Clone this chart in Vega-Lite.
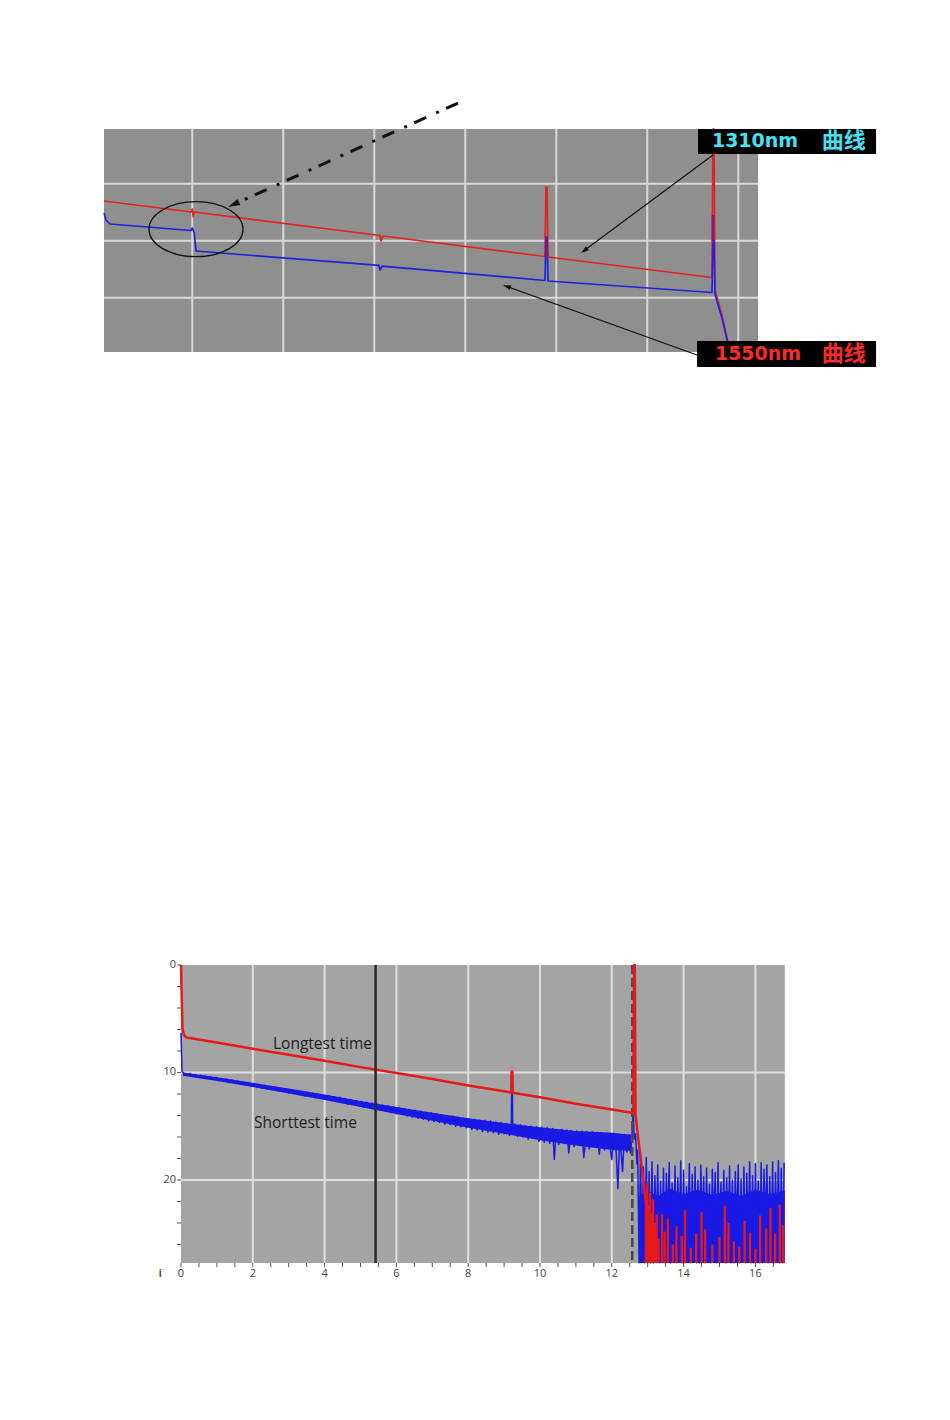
{
"$schema": "https://vega.github.io/schema/vega-lite/v6.json",
"width": 950, "height": 1420, "padding": 0,
"autosize": {"type": "fit", "contains": "padding"},
"background": "white",
"config": {"view": {"stroke": null}},
"datasets": {
"topRed": [{"tx":-0.97,"ty":1.303},{"tx":-0.014,"ty":1.496},{"tx":0.0,"ty":1.444},{"tx":0.011,"ty":1.584},{"tx":0.022,"ty":1.496},{"tx":2.063,"ty":1.908},{"tx":2.074,"ty":2.005},{"tx":2.096,"ty":1.917},{"tx":3.876,"ty":2.277},{"tx":3.887,"ty":1.058},{"tx":3.898,"ty":1.058},{"tx":3.909,"ty":2.286},{"tx":5.711,"ty":2.645},{"tx":5.722,"ty":0.04},{"tx":5.733,"ty":0.04},{"tx":5.744,"ty":2.865},{"tx":5.821,"ty":3.303},{"tx":5.909,"ty":3.952}],
"topBlue": [{"tx":-0.97,"ty":1.514},{"tx":-0.948,"ty":1.636},{"tx":-0.904,"ty":1.707},{"tx":-0.014,"ty":1.821},{"tx":0.0,"ty":1.777},{"tx":0.022,"ty":1.865},{"tx":0.041,"ty":2.18},{"tx":2.052,"ty":2.434},{"tx":2.063,"ty":2.514},{"tx":2.085,"ty":2.444},{"tx":3.876,"ty":2.698},{"tx":3.887,"ty":1.935},{"tx":3.898,"ty":1.935},{"tx":3.909,"ty":2.707},{"tx":5.711,"ty":2.908},{"tx":5.722,"ty":1.987},{"tx":5.733,"ty":1.987},{"tx":5.744,"ty":2.935},{"tx":5.821,"ty":3.356},{"tx":5.909,"ty":3.952}],
"botBand": [{"bx":0.05,"lo":10.0,"hi":10.3},{"bx":1,"lo":10.45,"hi":10.8},{"bx":2,"lo":10.95,"hi":11.35},{"bx":3,"lo":11.5,"hi":11.95},{"bx":4,"lo":12.05,"hi":12.55},{"bx":5,"lo":12.65,"hi":13.2},{"bx":6,"lo":13.2,"hi":13.85},{"bx":7,"lo":13.75,"hi":14.5},{"bx":8,"lo":14.25,"hi":15.15},{"bx":9,"lo":14.7,"hi":15.7},{"bx":10,"lo":15.1,"hi":16.3},{"bx":11,"lo":15.45,"hi":16.8},{"bx":12,"lo":15.6,"hi":17.2},{"bx":12.55,"lo":15.8,"hi":17.3}],
"botNoiseBand": [{"bx":12.76,"lo":21.5},{"bx":13.0,"lo":21.0},{"bx":13.3,"lo":21.5},{"bx":13.6,"lo":20.8},{"bx":14.0,"lo":21.3},{"bx":14.4,"lo":20.9},{"bx":14.8,"lo":21.4},{"bx":15.2,"lo":21.0},{"bx":15.6,"lo":21.5},{"bx":16.0,"lo":20.9},{"bx":16.4,"lo":21.3},{"bx":16.82,"lo":21.0}],
"botBlue": [{"bx":0,"by":6.3},{"bx":0.03,"by":9.9},{"bx":0.1,"by":10.15},{"bx":0.17,"by":10.3},{"bx":0.25,"by":10.1},{"bx":0.33,"by":10.35},{"bx":0.4,"by":10.2},{"bx":0.48,"by":10.45},{"bx":0.55,"by":10.25},{"bx":0.6,"by":10.5},{"bx":0.68,"by":10.3},{"bx":0.75,"by":10.55},{"bx":0.82,"by":10.4},{"bx":0.9,"by":10.65},{"bx":0.97,"by":10.45},{"bx":1.05,"by":10.75},{"bx":1.12,"by":10.55},{"bx":1.2,"by":10.7},{"bx":1.27,"by":10.6},{"bx":1.35,"by":10.95},{"bx":1.42,"by":10.7},{"bx":1.5,"by":10.95},{"bx":1.58,"by":10.8},{"bx":1.65,"by":11.1},{"bx":1.72,"by":10.9},{"bx":1.8,"by":11.15},{"bx":1.87,"by":10.95},{"bx":1.95,"by":11.25},{"bx":2.02,"by":11.05},{"bx":2.1,"by":11.35},{"bx":2.17,"by":11.15},{"bx":2.25,"by":11.45},{"bx":2.32,"by":11.2},{"bx":2.4,"by":11.5},{"bx":2.47,"by":11.3},{"bx":2.55,"by":11.6},{"bx":2.62,"by":11.35},{"bx":2.7,"by":11.7},{"bx":2.77,"by":11.45},{"bx":2.85,"by":11.75},{"bx":2.92,"by":11.55},{"bx":3.0,"by":11.9},{"bx":3.07,"by":11.6},{"bx":3.15,"by":11.95},{"bx":3.22,"by":11.7},{"bx":3.3,"by":12.05},{"bx":3.37,"by":11.75},{"bx":3.45,"by":12.2},{"bx":3.52,"by":11.85},{"bx":3.6,"by":12.15},{"bx":3.67,"by":11.95},{"bx":3.75,"by":12.35},{"bx":3.82,"by":12.0},{"bx":3.9,"by":12.4},{"bx":3.97,"by":12.1},{"bx":4.05,"by":12.5},{"bx":4.12,"by":12.15},{"bx":4.2,"by":12.6},{"bx":4.27,"by":12.25},{"bx":4.35,"by":12.7},{"bx":4.42,"by":12.3},{"bx":4.5,"by":12.8},{"bx":4.57,"by":12.4},{"bx":4.65,"by":12.95},{"bx":4.72,"by":12.5},{"bx":4.8,"by":12.95},{"bx":4.87,"by":12.6},{"bx":4.95,"by":13.1},{"bx":5.02,"by":12.7},{"bx":5.1,"by":13.25},{"bx":5.17,"by":12.75},{"bx":5.25,"by":13.3},{"bx":5.32,"by":12.85},{"bx":5.4,"by":13.45},{"bx":5.47,"by":12.95},{"bx":5.55,"by":13.5},{"bx":5.62,"by":13.05},{"bx":5.7,"by":13.6},{"bx":5.77,"by":13.1},{"bx":5.85,"by":13.75},{"bx":5.92,"by":13.2},{"bx":6.0,"by":13.85},{"bx":6.07,"by":13.25},{"bx":6.15,"by":13.9},{"bx":6.22,"by":13.35},{"bx":6.3,"by":14.05},{"bx":6.37,"by":13.45},{"bx":6.45,"by":14.15},{"bx":6.52,"by":13.5},{"bx":6.6,"by":14.25},{"bx":6.67,"by":13.6},{"bx":6.75,"by":14.35},{"bx":6.82,"by":13.7},{"bx":6.9,"by":14.5},{"bx":6.97,"by":13.75},{"bx":7.05,"by":14.55},{"bx":7.12,"by":13.85},{"bx":7.2,"by":14.65},{"bx":7.27,"by":13.95},{"bx":7.35,"by":14.8},{"bx":7.42,"by":14.0},{"bx":7.5,"by":14.85},{"bx":7.57,"by":14.05},{"bx":7.65,"by":15.0},{"bx":7.72,"by":14.15},{"bx":7.8,"by":15.05},{"bx":7.87,"by":14.25},{"bx":7.95,"by":15.15},{"bx":8.02,"by":14.3},{"bx":8.1,"by":15.3},{"bx":8.17,"by":14.35},{"bx":8.25,"by":15.35},{"bx":8.32,"by":14.45},{"bx":8.4,"by":15.5},{"bx":8.47,"by":14.45},{"bx":8.55,"by":15.55},{"bx":8.62,"by":14.5},{"bx":8.7,"by":15.6},{"bx":8.77,"by":14.6},{"bx":8.85,"by":15.75},{"bx":8.92,"by":14.65},{"bx":9.0,"by":15.7},{"bx":9.07,"by":14.75},{"bx":9.15,"by":15.85},{"bx":9.2,"by":15.0},{"bx":9.21,"by":12.0},{"bx":9.23,"by":12.0},{"bx":9.24,"by":15.3},{"bx":9.3,"by":14.8},{"bx":9.37,"by":15.95},{"bx":9.45,"by":14.85},{"bx":9.52,"by":16.0},{"bx":9.6,"by":14.95},{"bx":9.67,"by":16.2},{"bx":9.75,"by":15.0},{"bx":9.82,"by":16.1},{"bx":9.9,"by":15.05},{"bx":9.97,"by":16.4},{"bx":10.05,"by":15.1},{"bx":10.12,"by":16.5},{"bx":10.2,"by":15.15},{"bx":10.27,"by":16.6},{"bx":10.35,"by":15.2},{"bx":10.4,"by":18.1},{"bx":10.45,"by":15.3},{"bx":10.52,"by":16.7},{"bx":10.6,"by":15.3},{"bx":10.67,"by":16.6},{"bx":10.75,"by":15.35},{"bx":10.8,"by":17.5},{"bx":10.87,"by":15.4},{"bx":10.95,"by":16.9},{"bx":11.02,"by":15.45},{"bx":11.1,"by":16.8},{"bx":11.17,"by":15.45},{"bx":11.22,"by":17.9},{"bx":11.3,"by":15.5},{"bx":11.37,"by":17.1},{"bx":11.45,"by":15.5},{"bx":11.52,"by":16.9},{"bx":11.6,"by":15.55},{"bx":11.65,"by":17.6},{"bx":11.72,"by":15.6},{"bx":11.8,"by":17.2},{"bx":11.87,"by":15.65},{"bx":11.95,"by":17.0},{"bx":12.0,"by":18.1},{"bx":12.05,"by":15.65},{"bx":12.12,"by":17.3},{"bx":12.17,"by":20.8},{"bx":12.22,"by":15.8},{"bx":12.3,"by":19.2},{"bx":12.35,"by":15.75},{"bx":12.42,"by":17.4},{"bx":12.47,"by":15.8},{"bx":12.52,"by":17.5},{"bx":12.56,"by":15.9},{"bx":12.6,"by":13.5},{"bx":12.62,"by":16.2},{"bx":12.66,"by":15.7},{"bx":12.7,"by":18.5},
{"bx":12.72,"by":17.2},{"bx":12.76,"by":27.7},{"bx":12.80,"by":17.6},{"bx":12.84,"by":26.5},{"bx":12.88,"by":18.8},{"bx":12.92,"by":27.7},{"bx":12.96,"by":17.9},{"bx":13.00,"by":25.8},{"bx":13.04,"by":19.2},{"bx":13.08,"by":27.7},{"bx":13.12,"by":18.3},{"bx":13.16,"by":27.7},{"bx":13.20,"by":19.6},{"bx":13.24,"by":24.9},{"bx":13.28,"by":18.6},{"bx":13.32,"by":27.7},{"bx":13.36,"by":20.1},{"bx":13.40,"by":26.8},{"bx":13.44,"by":18.9},{"bx":13.48,"by":27.7},{"bx":13.52,"by":19.4},{"bx":13.56,"by":23.9},{"bx":13.60,"by":18.4},{"bx":13.64,"by":27.7},{"bx":13.68,"by":20.3},{"bx":13.72,"by":27.2},{"bx":13.76,"by":18.7},{"bx":13.80,"by":27.7},{"bx":13.84,"by":19.8},{"bx":13.88,"by":25.4},{"bx":13.92,"by":18.2},{"bx":13.96,"by":27.7},{"bx":14.00,"by":19.1},{"bx":14.04,"by":27.7},{"bx":14.08,"by":20.6},{"bx":14.12,"by":24.6},{"bx":14.16,"by":18.5},{"bx":14.20,"by":27.7},{"bx":14.24,"by":19.5},{"bx":14.28,"by":26.2},{"bx":14.32,"by":18.8},{"bx":14.36,"by":27.7},{"bx":14.40,"by":20.0},{"bx":14.44,"by":27.7},{"bx":14.48,"by":18.6},{"bx":14.52,"by":25.1},{"bx":14.56,"by":19.7},{"bx":14.60,"by":27.7},{"bx":14.64,"by":18.9},{"bx":14.68,"by":27.0},{"bx":14.72,"by":20.4},{"bx":14.76,"by":27.7},{"bx":14.80,"by":19.0},{"bx":14.84,"by":24.4},{"bx":14.88,"by":19.3},{"bx":14.92,"by":27.7},{"bx":14.96,"by":18.4},{"bx":15.00,"by":27.7},{"bx":15.04,"by":20.2},{"bx":15.08,"by":25.9},{"bx":15.12,"by":19.1},{"bx":15.16,"by":27.7},{"bx":15.20,"by":19.8},{"bx":15.24,"by":26.7},{"bx":15.28,"by":18.7},{"bx":15.32,"by":27.7},{"bx":15.36,"by":20.0},{"bx":15.40,"by":27.7},{"bx":15.44,"by":19.2},{"bx":15.48,"by":24.8},{"bx":15.52,"by":18.6},{"bx":15.56,"by":27.7},{"bx":15.60,"by":19.9},{"bx":15.64,"by":27.3},{"bx":15.68,"by":18.8},{"bx":15.72,"by":27.7},{"bx":15.76,"by":19.4},{"bx":15.80,"by":25.6},{"bx":15.84,"by":18.3},{"bx":15.88,"by":27.7},{"bx":15.92,"by":19.6},{"bx":15.96,"by":27.7},{"bx":16.00,"by":18.5},{"bx":16.04,"by":26.1},{"bx":16.08,"by":20.1},{"bx":16.12,"by":27.7},{"bx":16.16,"by":18.4},{"bx":16.20,"by":27.7},{"bx":16.24,"by":19.0},{"bx":16.28,"by":24.7},{"bx":16.32,"by":18.6},{"bx":16.36,"by":27.7},{"bx":16.40,"by":19.7},{"bx":16.44,"by":27.1},{"bx":16.48,"by":18.3},{"bx":16.52,"by":27.7},{"bx":16.56,"by":19.3},{"bx":16.60,"by":25.5},{"bx":16.64,"by":18.2},{"bx":16.68,"by":27.7},{"bx":16.72,"by":18.9},{"bx":16.76,"by":27.7},{"bx":16.80,"by":18.4}],
"botRed": [{"bx":0,"by":0},{"bx":0.02,"by":3.0},{"bx":0.04,"by":5.9},{"bx":0.08,"by":6.5},{"bx":0.15,"by":6.75},{"bx":1,"by":7.2},{"bx":2,"by":7.8},{"bx":3,"by":8.35},{"bx":4,"by":8.9},{"bx":5,"by":9.5},{"bx":6,"by":10.05},{"bx":7,"by":10.6},{"bx":8,"by":11.2},{"bx":9,"by":11.75},{"bx":9.2,"by":11.86},{"bx":9.21,"by":9.9},{"bx":9.23,"by":9.9},{"bx":9.24,"by":11.88},{"bx":10,"by":12.3},{"bx":11,"by":12.9},{"bx":12,"by":13.45},{"bx":12.55,"by":13.75},{"bx":12.6,"by":13.8},{"bx":12.62,"by":0},{"bx":12.64,"by":0},{"bx":12.66,"by":13.9},{"bx":12.75,"by":16.5},{"bx":12.85,"by":19.2},{"bx":12.95,"by":22.0},{"bx":13.05,"by":24.8},{"bx":13.15,"by":27.7}],
"botRedSpikes": [{"bx":12.95,"by":21.5},{"bx":12.99,"by":20.3},{"bx":13.03,"by":22.4},{"bx":13.07,"by":21.2},{"bx":13.11,"by":23.1},{"bx":13.15,"by":21.8},{"bx":13.2,"by":24.0},{"bx":13.25,"by":23.2},{"bx":13.3,"by":25.5},{"bx":13.4,"by":23.2},{"bx":13.47,"by":24.8},{"bx":13.56,"by":23.6},{"bx":13.7,"by":26.0},{"bx":13.8,"by":24.3},{"bx":13.95,"by":25.2},{"bx":14.04,"by":22.8},{"bx":14.2,"by":26.3},{"bx":14.35,"by":25.0},{"bx":14.5,"by":23.0},{"bx":14.6,"by":24.6},{"bx":14.8,"by":26.0},{"bx":15.0,"by":25.3},{"bx":15.15,"by":22.4},{"bx":15.25,"by":24.0},{"bx":15.4,"by":25.7},{"bx":15.55,"by":26.2},{"bx":15.7,"by":23.8},{"bx":15.85,"by":24.9},{"bx":16.0,"by":26.4},{"bx":16.13,"by":23.3},{"bx":16.3,"by":24.5},{"bx":16.42,"by":22.6},{"bx":16.55,"by":25.0},{"bx":16.68,"by":22.3},{"bx":16.78,"by":24.2}],
"xTicks": [{"bx":0},{"bx":0.5},{"bx":1},{"bx":1.5},{"bx":2},{"bx":2.5},{"bx":3},{"bx":3.5},{"bx":4},{"bx":4.5},{"bx":5},{"bx":5.5},{"bx":6},{"bx":6.5},{"bx":7},{"bx":7.5},{"bx":8},{"bx":8.5},{"bx":9},{"bx":9.5},{"bx":10},{"bx":10.5},{"bx":11},{"bx":11.5},{"bx":12},{"bx":12.5},{"bx":13},{"bx":13.5},{"bx":14},{"bx":14.5},{"bx":15},{"bx":15.5},{"bx":16},{"bx":16.5}],
"xLabels": [{"bx":0,"label":"0"},{"bx":2,"label":"2"},{"bx":4,"label":"4"},{"bx":6,"label":"6"},{"bx":8,"label":"8"},{"bx":10,"label":"10"},{"bx":12,"label":"12"},{"bx":14,"label":"14"},{"bx":16,"label":"16"}],
"yTicks": [{"by":0},{"by":2},{"by":4},{"by":6},{"by":8},{"by":10},{"by":12},{"by":14},{"by":16},{"by":18},{"by":20},{"by":22},{"by":24},{"by":26}],
"yLabels": [{"by":0,"label":"0"},{"by":10,"label":"10"},{"by":20,"label":"20"}]
},
"layer": [
{"layer": [
 {"data": {"values": [{"tx":-0.97,"tx2":6.217,"ty":0.04,"ty2":3.952}]},
  "mark": {"type":"rect","fill":"#8f8f8f"},
  "encoding": {"x":{"field":"tx","type":"quantitative","scale":{"domain":[-2.1129,8.3267],"nice":false,"zero":false},"axis":null},"x2":{"field":"tx2"},
   "y":{"field":"ty","type":"quantitative","scale":{"domain":[-2.2232,22.6891],"reverse":true,"nice":false,"zero":false},"axis":null},"y2":{"field":"ty2"}}},
 {"data": {"values": [{"tx":0},{"tx":1},{"tx":2},{"tx":3},{"tx":4},{"tx":5},{"tx":6}]},
  "mark": {"type":"rule","color":"#d8d8d8","strokeWidth":2},
  "encoding": {"x":{"field":"tx","type":"quantitative","scale":{"domain":[-2.1129,8.3267],"nice":false,"zero":false},"axis":null},
   "y":{"datum":0.04,"type":"quantitative","scale":{"domain":[-2.2232,22.6891],"reverse":true,"nice":false,"zero":false},"axis":null},"y2":{"datum":3.952}}},
 {"data": {"values": [{"ty":1},{"ty":2},{"ty":3}]},
  "mark": {"type":"rule","color":"#d8d8d8","strokeWidth":2},
  "encoding": {"x":{"datum":-0.97,"type":"quantitative","scale":{"domain":[-2.1129,8.3267],"nice":false,"zero":false},"axis":null},"x2":{"datum":6.217},
   "y":{"field":"ty","type":"quantitative","scale":{"domain":[-2.2232,22.6891],"reverse":true,"nice":false,"zero":false},"axis":null}}},
 {"data": {"name":"topRed"},
  "mark": {"type":"line","color":"#e32222","strokeWidth":1.7,"strokeJoin":"round"},
  "encoding": {"x":{"field":"tx","type":"quantitative","scale":{"domain":[-2.1129,8.3267],"nice":false,"zero":false},"axis":null},
   "y":{"field":"ty","type":"quantitative","scale":{"domain":[-2.2232,22.6891],"reverse":true,"nice":false,"zero":false},"axis":null},"order":{"value":null}}},
 {"data": {"name":"topBlue"},
  "mark": {"type":"line","color":"#2222dd","strokeWidth":1.7,"strokeJoin":"round"},
  "encoding": {"x":{"field":"tx","type":"quantitative","scale":{"domain":[-2.1129,8.3267],"nice":false,"zero":false},"axis":null},
   "y":{"field":"ty","type":"quantitative","scale":{"domain":[-2.2232,22.6891],"reverse":true,"nice":false,"zero":false},"axis":null},"order":{"value":null}}},
 {"data": {"values": [{"tx":3.893,"ty":1.935,"ty2":2.286},{"tx":5.722,"ty":1.549,"ty2":2.04}]},
  "mark": {"type":"rule","color":"#7a1c80","strokeWidth":2.6},
  "encoding": {"x":{"field":"tx","type":"quantitative","scale":{"domain":[-2.1129,8.3267],"nice":false,"zero":false},"axis":null},
   "y":{"field":"ty","type":"quantitative","scale":{"domain":[-2.2232,22.6891],"reverse":true,"nice":false,"zero":false},"axis":null},"y2":{"field":"ty2"}}},
 {"data": {"values": [{"tx":0.041,"ty":1.798}]},
  "mark": {"type":"point","filled":false,"stroke":"#111111","strokeWidth":1.3,"opacity":1,"size":8836,"shape":"M-1,0C-1,-0.323,-0.552,-0.585,0,-0.585C0.552,-0.585,1,-0.323,1,0C1,0.323,0.552,0.585,0,0.585C-0.552,0.585,-1,0.323,-1,0Z"},
  "encoding": {"x":{"field":"tx","type":"quantitative","scale":{"domain":[-2.1129,8.3267],"nice":false,"zero":false},"axis":null},
   "y":{"field":"ty","type":"quantitative","scale":{"domain":[-2.2232,22.6891],"reverse":true,"nice":false,"zero":false},"axis":null}}},
 {"data": {"values": [{"tx":2.92,"ty":-0.416},{"tx":0.453,"ty":1.365}]},
  "mark": {"type":"line","color":"#111111","strokeWidth":3,"strokeDash":[13,8,3,11],"strokeCap":"butt"},
  "encoding": {"x":{"field":"tx","type":"quantitative","scale":{"domain":[-2.1129,8.3267],"nice":false,"zero":false},"axis":null},
   "y":{"field":"ty","type":"quantitative","scale":{"domain":[-2.2232,22.6891],"reverse":true,"nice":false,"zero":false},"axis":null},"order":{"value":null}}},
 {"data": {"values": [{"tx":0.453,"ty":1.365}]},
  "mark": {"type":"point","filled":true,"color":"#111111","opacity":1,"size":144,"angle":245.5,"shape":"M0,-1L0.55,1L-0.55,1Z"},
  "encoding": {"x":{"field":"tx","type":"quantitative","scale":{"domain":[-2.1129,8.3267],"nice":false,"zero":false},"axis":null},
   "y":{"field":"ty","type":"quantitative","scale":{"domain":[-2.2232,22.6891],"reverse":true,"nice":false,"zero":false},"axis":null}}},
 {"data": {"values": [{"id":"a","tx":5.722,"ty":0.496},{"id":"a","tx":4.307,"ty":2.173},{"id":"b","tx":5.547,"ty":4.005},{"id":"b","tx":3.456,"ty":2.801}]},
  "mark": {"type":"line","color":"#111111","strokeWidth":1.2},
  "encoding": {"x":{"field":"tx","type":"quantitative","scale":{"domain":[-2.1129,8.3267],"nice":false,"zero":false},"axis":null},
   "y":{"field":"ty","type":"quantitative","scale":{"domain":[-2.2232,22.6891],"reverse":true,"nice":false,"zero":false},"axis":null},"detail":{"field":"id"},"order":{"value":null}}},
 {"data": {"values": [{"tx":4.307,"ty":2.173}]},
  "mark": {"type":"point","filled":true,"color":"#111111","opacity":1,"size":64,"angle":233.4,"shape":"M0,-1L0.6,1L-0.6,1Z"},
  "encoding": {"x":{"field":"tx","type":"quantitative","scale":{"domain":[-2.1129,8.3267],"nice":false,"zero":false},"axis":null},
   "y":{"field":"ty","type":"quantitative","scale":{"domain":[-2.2232,22.6891],"reverse":true,"nice":false,"zero":false},"axis":null}}},
 {"data": {"values": [{"tx":3.456,"ty":2.801}]},
  "mark": {"type":"point","filled":true,"color":"#111111","opacity":1,"size":64,"angle":289.8,"shape":"M0,-1L0.6,1L-0.6,1Z"},
  "encoding": {"x":{"field":"tx","type":"quantitative","scale":{"domain":[-2.1129,8.3267],"nice":false,"zero":false},"axis":null},
   "y":{"field":"ty","type":"quantitative","scale":{"domain":[-2.2232,22.6891],"reverse":true,"nice":false,"zero":false},"axis":null}}},
 {"data": {"values": [{"tx":5.558,"tx2":7.514,"ty":0.04,"ty2":0.479},{"tx":5.547,"tx2":7.514,"ty":3.759,"ty2":4.215}]},
  "mark": {"type":"rect","fill":"#000000"},
  "encoding": {"x":{"field":"tx","type":"quantitative","scale":{"domain":[-2.1129,8.3267],"nice":false,"zero":false},"axis":null},"x2":{"field":"tx2"},
   "y":{"field":"ty","type":"quantitative","scale":{"domain":[-2.2232,22.6891],"reverse":true,"nice":false,"zero":false},"axis":null},"y2":{"field":"ty2"}}},
 {"data": {"values": [{"tx":6.184,"ty":0.259,"label":"1310nm"}]},
  "mark": {"type":"text","font":"DejaVu Sans","fontWeight":"bold","fontSize":19,"color":"#45e2f5","align":"center","baseline":"middle"},
  "encoding": {"x":{"field":"tx","type":"quantitative","scale":{"domain":[-2.1129,8.3267],"nice":false,"zero":false},"axis":null},
   "y":{"field":"ty","type":"quantitative","scale":{"domain":[-2.2232,22.6891],"reverse":true,"nice":false,"zero":false},"axis":null},"text":{"field":"label"}}},
 {"data": {"values": [{"tx":7.16,"ty":0.259,"label":"曲线"}]},
  "mark": {"type":"text","font":"Noto Sans CJK SC","fontWeight":"bold","fontSize":22,"color":"#45e2f5","align":"center","baseline":"middle"},
  "encoding": {"x":{"field":"tx","type":"quantitative","scale":{"domain":[-2.1129,8.3267],"nice":false,"zero":false},"axis":null},
   "y":{"field":"ty","type":"quantitative","scale":{"domain":[-2.2232,22.6891],"reverse":true,"nice":false,"zero":false},"axis":null},"text":{"field":"label"}}},
 {"data": {"values": [{"tx":6.217,"ty":3.987,"label":"1550nm"}]},
  "mark": {"type":"text","font":"DejaVu Sans","fontWeight":"bold","fontSize":19,"color":"#ff2b2b","align":"center","baseline":"middle"},
  "encoding": {"x":{"field":"tx","type":"quantitative","scale":{"domain":[-2.1129,8.3267],"nice":false,"zero":false},"axis":null},
   "y":{"field":"ty","type":"quantitative","scale":{"domain":[-2.2232,22.6891],"reverse":true,"nice":false,"zero":false},"axis":null},"text":{"field":"label"}}},
 {"data": {"values": [{"tx":7.16,"ty":3.987,"label":"曲线"}]},
  "mark": {"type":"text","font":"Noto Sans CJK SC","fontWeight":"bold","fontSize":22,"color":"#ff2b2b","align":"center","baseline":"middle"},
  "encoding": {"x":{"field":"tx","type":"quantitative","scale":{"domain":[-2.1129,8.3267],"nice":false,"zero":false},"axis":null},
   "y":{"field":"ty","type":"quantitative","scale":{"domain":[-2.2232,22.6891],"reverse":true,"nice":false,"zero":false},"axis":null},"text":{"field":"label"}}}
]},
{"layer": [
 {"data": {"values": [{"bx":0,"bx2":16.82,"by":0,"by2":27.72}]},
  "mark": {"type":"rect","fill":"#a4a4a4"},
  "encoding": {"x":{"field":"bx","type":"quantitative","scale":{"domain":[-5.0418,21.4206],"nice":false,"zero":false},"axis":null},"x2":{"field":"bx2"},
   "y":{"field":"by","type":"quantitative","scale":{"domain":[-89.767,42.326],"reverse":true,"nice":false,"zero":false},"axis":null},"y2":{"field":"by2"}}},
 {"data": {"values": [{"bx":2},{"bx":4},{"bx":6},{"bx":8},{"bx":10},{"bx":12},{"bx":14},{"bx":16}]},
  "mark": {"type":"rule","color":"#dedede","strokeWidth":2},
  "encoding": {"x":{"field":"bx","type":"quantitative","scale":{"domain":[-5.0418,21.4206],"nice":false,"zero":false},"axis":null},
   "y":{"datum":0,"type":"quantitative","scale":{"domain":[-89.767,42.326],"reverse":true,"nice":false,"zero":false},"axis":null},"y2":{"datum":27.72}}},
 {"data": {"values": [{"by":10},{"by":20}]},
  "mark": {"type":"rule","color":"#dedede","strokeWidth":2},
  "encoding": {"x":{"datum":0,"type":"quantitative","scale":{"domain":[-5.0418,21.4206],"nice":false,"zero":false},"axis":null},"x2":{"datum":16.82},
   "y":{"field":"by","type":"quantitative","scale":{"domain":[-89.767,42.326],"reverse":true,"nice":false,"zero":false},"axis":null}}},
 {"data": {"name":"xTicks"},
  "mark": {"type":"rule","color":"#555555","strokeWidth":1},
  "encoding": {"x":{"field":"bx","type":"quantitative","scale":{"domain":[-5.0418,21.4206],"nice":false,"zero":false},"axis":null},
   "y":{"datum":27.72,"type":"quantitative","scale":{"domain":[-89.767,42.326],"reverse":true,"nice":false,"zero":false},"axis":null},"y2":{"datum":28.1}}},
 {"data": {"name":"yTicks"},
  "mark": {"type":"rule","color":"#555555","strokeWidth":1},
  "encoding": {"x":{"datum":-0.11,"type":"quantitative","scale":{"domain":[-5.0418,21.4206],"nice":false,"zero":false},"axis":null},"x2":{"datum":0},
   "y":{"field":"by","type":"quantitative","scale":{"domain":[-89.767,42.326],"reverse":true,"nice":false,"zero":false},"axis":null}}},
 {"data": {"name":"xLabels"},
  "mark": {"type":"text","font":"Open Sans","fontSize":11,"color":"#444444","align":"center","baseline":"middle"},
  "encoding": {"x":{"field":"bx","type":"quantitative","scale":{"domain":[-5.0418,21.4206],"nice":false,"zero":false},"axis":null},
   "y":{"datum":28.75,"type":"quantitative","scale":{"domain":[-89.767,42.326],"reverse":true,"nice":false,"zero":false},"axis":null},"text":{"field":"label"}}},
 {"data": {"name":"yLabels"},
  "mark": {"type":"text","font":"Open Sans","fontSize":11,"color":"#444444","align":"right","baseline":"middle"},
  "encoding": {"x":{"datum":-0.14,"type":"quantitative","scale":{"domain":[-5.0418,21.4206],"nice":false,"zero":false},"axis":null},
   "y":{"field":"by","type":"quantitative","scale":{"domain":[-89.767,42.326],"reverse":true,"nice":false,"zero":false},"axis":null},"text":{"field":"label"}}},
 {"data": {"name":"botBand"},
  "mark": {"type":"area","color":"#1a1ae6","opacity":1},
  "encoding": {"x":{"field":"bx","type":"quantitative","scale":{"domain":[-5.0418,21.4206],"nice":false,"zero":false},"axis":null},
   "y":{"field":"lo","type":"quantitative","scale":{"domain":[-89.767,42.326],"reverse":true,"nice":false,"zero":false},"axis":null},"y2":{"field":"hi"}}},
 {"data": {"name":"botNoiseBand"},
  "mark": {"type":"area","color":"#1a1ae6","opacity":1},
  "encoding": {"x":{"field":"bx","type":"quantitative","scale":{"domain":[-5.0418,21.4206],"nice":false,"zero":false},"axis":null},
   "y":{"field":"lo","type":"quantitative","scale":{"domain":[-89.767,42.326],"reverse":true,"nice":false,"zero":false},"axis":null},"y2":{"datum":27.72}}},
 {"data": {"name":"botBlue"},
  "mark": {"type":"line","color":"#1a1ae6","strokeWidth":1.5,"strokeJoin":"round"},
  "encoding": {"x":{"field":"bx","type":"quantitative","scale":{"domain":[-5.0418,21.4206],"nice":false,"zero":false},"axis":null},
   "y":{"field":"by","type":"quantitative","scale":{"domain":[-89.767,42.326],"reverse":true,"nice":false,"zero":false},"axis":null},"order":{"value":null}}},
 {"data": {"values": [{"bx":12.57}]},
  "mark": {"type":"rule","color":"#4a4a4a","strokeWidth":2.6,"strokeDash":[9,4]},
  "encoding": {"x":{"field":"bx","type":"quantitative","scale":{"domain":[-5.0418,21.4206],"nice":false,"zero":false},"axis":null},
   "y":{"datum":0,"type":"quantitative","scale":{"domain":[-89.767,42.326],"reverse":true,"nice":false,"zero":false},"axis":null},"y2":{"datum":27.72}}},
 {"data": {"name":"botRed"},
  "mark": {"type":"line","color":"#e61a1a","strokeWidth":2.5,"strokeJoin":"round"},
  "encoding": {"x":{"field":"bx","type":"quantitative","scale":{"domain":[-5.0418,21.4206],"nice":false,"zero":false},"axis":null},
   "y":{"field":"by","type":"quantitative","scale":{"domain":[-89.767,42.326],"reverse":true,"nice":false,"zero":false},"axis":null},"order":{"value":null}}},
 {"data": {"name":"botRedSpikes"},
  "mark": {"type":"rule","color":"#e61a1a","strokeWidth":2.3},
  "encoding": {"x":{"field":"bx","type":"quantitative","scale":{"domain":[-5.0418,21.4206],"nice":false,"zero":false},"axis":null},
   "y":{"field":"by","type":"quantitative","scale":{"domain":[-89.767,42.326],"reverse":true,"nice":false,"zero":false},"axis":null},"y2":{"datum":27.72}}},
 {"data": {"values": [{"bx":5.42}]},
  "mark": {"type":"rule","color":"#2a2a2a","strokeWidth":2.5},
  "encoding": {"x":{"field":"bx","type":"quantitative","scale":{"domain":[-5.0418,21.4206],"nice":false,"zero":false},"axis":null},
   "y":{"datum":0,"type":"quantitative","scale":{"domain":[-89.767,42.326],"reverse":true,"nice":false,"zero":false},"axis":null},"y2":{"datum":27.72}}},
 {"data": {"values": [{"bx":2.563,"by":7.35,"label":"Longtest time"},{"bx":2.033,"by":14.7,"label":"Shorttest time"}]},
  "mark": {"type":"text","font":"Open Sans","fontSize":15.5,"color":"#1e1e1e","align":"left","baseline":"middle"},
  "encoding": {"x":{"field":"bx","type":"quantitative","scale":{"domain":[-5.0418,21.4206],"nice":false,"zero":false},"axis":null},
   "y":{"field":"by","type":"quantitative","scale":{"domain":[-89.767,42.326],"reverse":true,"nice":false,"zero":false},"axis":null},"text":{"field":"label"}}},
 {"data": {"values": [{"bx":-0.58,"by":28.7,"label":"i"}]},
  "mark": {"type":"text","font":"Open Sans","fontSize":10,"fontWeight":"bold","color":"#444444","align":"center","baseline":"middle"},
  "encoding": {"x":{"field":"bx","type":"quantitative","scale":{"domain":[-5.0418,21.4206],"nice":false,"zero":false},"axis":null},
   "y":{"field":"by","type":"quantitative","scale":{"domain":[-89.767,42.326],"reverse":true,"nice":false,"zero":false},"axis":null},"text":{"field":"label"}}}
]}
],
"resolve": {"scale": {"x": "independent", "y": "independent"}}
}
